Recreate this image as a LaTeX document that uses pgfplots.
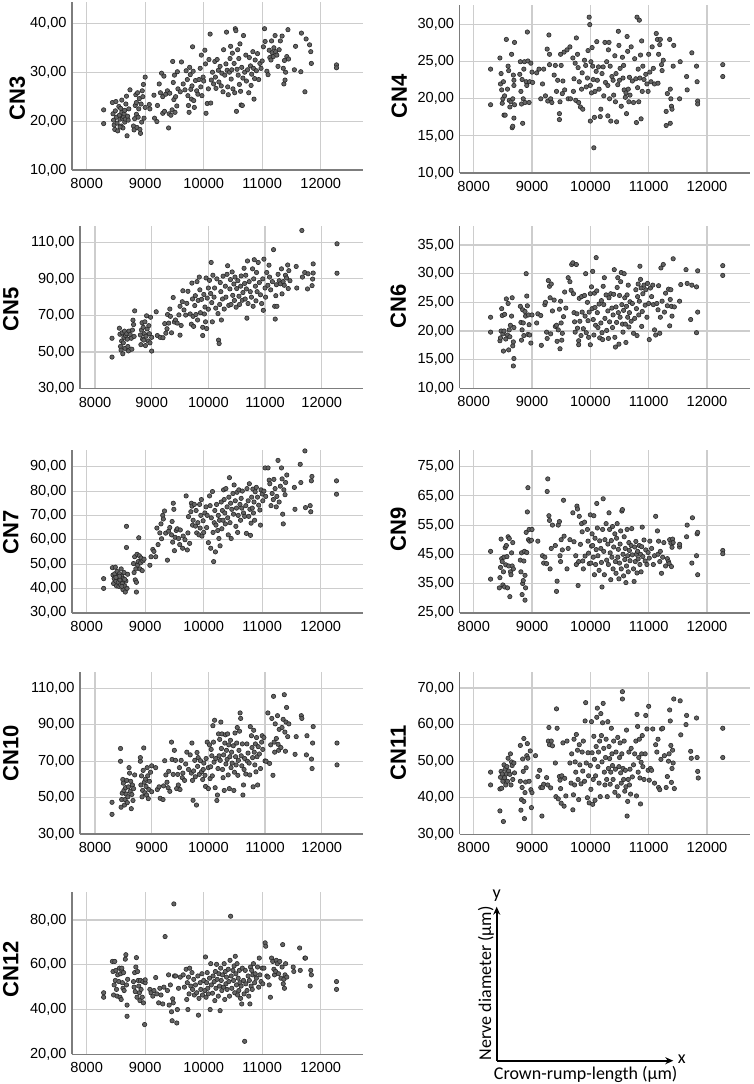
\documentclass[border=0pt]{standalone}
\usepackage{pgfplots}
\pgfplotsset{compat=1.18}
\usepackage{fontspec}
\setmainfont{Liberation Sans}
\newfontfamily\carlito{Carlito}
\usetikzlibrary{arrows.meta}
\definecolor{gridgray}{RGB}{205,205,205}
\definecolor{axisgray}{RGB}{125,125,125}
\definecolor{markfill}{RGB}{100,100,100}
\definecolor{markedge}{RGB}{40,40,40}
\pgfplotsset{
  panel/.style={
    scale only axis, anchor=south west,
    axis lines=left, axis line style={-, draw=axisgray, line width=0.8pt},
    x axis line style={-}, y axis line style={-},
    grid=major, major grid style={draw=gridgray, line width=0.55pt},
    major tick length=0pt,
    xtick={8000,9000,10000,11000,12000},
    scaled x ticks=false, scaled y ticks=false,
    /pgf/number format/assume math mode=true,
    tick label style={font=\fontsize{7.3}{8}\selectfont},
    yticklabel style={inner sep=0pt, xshift=-2.5pt,
      /pgf/number format/fixed, /pgf/number format/fixed zerofill,
      /pgf/number format/precision=2, /pgf/number format/use comma},
    xticklabel style={inner sep=0pt, yshift=-4pt,
      /pgf/number format/fixed, /pgf/number format/precision=0,
      /pgf/number format/1000 sep={}},
  },
  pts/.style={only marks, mark=*, mark size=1.1pt,
    mark options={fill=markfill, draw=markedge, line width=0.3pt}},
}
\begin{document}
\begin{tikzpicture}
\path[use as bounding box] (0,0) rectangle (377pt,-542pt);

% ---------------- CN3 ----------------
\begin{axis}[panel, at={(36pt,-85pt)}, width=145.65pt, height=84pt,
  xmin=7749, xmax=12728, ymin=10, ymax=44.36, ytick={10,20,30,40}]
\addplot[pts] coordinates {
(8290,22.3)(8290,19.5)(8440,23.8)(8450,21.5)(8460,20.2)(8470,19.2)(8480,18.3)(8490,22.1)(8500,24)(8510,20.8)(8520,19.6)(8530,18)
(8550,23)(8560,21.2)(8570,20.4)(8580,22.6)(8590,19)(8600,21.8)(8610,20.6)(8620,18.6)(8630,20.9)(8640,21.5)(8650,19.8)(8660,20.4)(8670,23.5)(8680,25.1)(8690,17)(8700,21)(8710,20.2)(8720,22.5)(8740,26.4)(8600,24.3)(8650,22.2)(8570,18.8)
(8800,19)(8810,18.2)(8820,20.5)(8830,23.2)(8840,25.4)(8850,21.4)(8860,18.7)(8870,25.8)(8880,20.8)(8890,22.5)(8900,24.6)(8910,18.3)(8920,17.5)(8930,23.5)(8940,19.8)(8950,26.2)(8960,25)(8980,20.6)(9000,22.8)(9000,29)(8970,27.5)(8850,23.8)
(9070,23.4)(9080,22.5)(9150,25.3)(9160,20.6)(9200,19.9)(9210,23.2)(9240,27.6)(9260,25.8)(9280,29.8)(9300,21.6)(9300,25)(9320,29.2)(9330,22)(9350,25.5)(9380,26.2)(9400,18.6)(9410,21.5)(9420,25.7)(9440,21.2)(9460,22.3)(9470,32.2)(9480,27.9)(9490,24.4)(9500,29.4)(9510,21.8)(9520,25)(9540,23.1)(9550,30.1)(9560,26.6)
(9600,26)(9620,32.1)(9650,27.6)(9680,26.4)(9700,30.3)(9720,28.5)(9730,25.2)(9740,23.2)(9750,21.8)(9760,31)(9770,29.5)(9780,26.5)(9790,24.5)(9800,27.2)(9810,35.2)(9820,30.2)(9830,24.2)(9840,22.8)(9860,28.3)(9880,26.2)(9900,25.5)(9920,28.5)(9940,30.8)(9950,27)(9960,33.5)(9970,25.2)(9990,29)(10000,28.2)
(10020,34.5)(10030,31.7)(10040,21.6)(10060,23.6)(10080,26.6)(10090,32.6)(10110,37.8)(10120,23.7)(10130,28.4)(10150,30)(10170,27.6)(10190,32.2)(10200,29)(10210,26.7)(10230,32.6)(10250,30.4)(10260,28)(10280,31.2)(10300,27.2)(10310,29.8)(10330,26)(10340,34.6)(10360,29.4)(10380,31.7)(10390,38.2)(10400,30.4)(10410,27)(10420,25.4)(10440,30)(10450,32.8)(10460,35.3)(10470,28.6)(10480,30.5)(10490,33.9)(10500,26.6)
(10520,31.8)(10530,25.8)(10540,38.9)(10550,38.5)(10560,22)(10570,30.6)(10580,34.6)(10590,29.4)(10600,32.8)(10610,27.5)(10620,35.8)(10630,26.1)(10640,23.3)(10650,31)(10660,23.2)(10670,28.8)(10680,37.5)(10700,30)(10720,33.5)(10730,28.2)(10750,30.5)(10770,25.8)(10780,33)(10800,31.3)(10810,27.3)(10820,29.6)(10840,34.2)(10850,30.8)(10860,24.5)(10870,28.7)(10880,32.5)(10900,30.3)(10920,33.8)(10940,28.5)(10960,31.8)(10980,30.8)(11000,32.3)
(11020,35.2)(11040,38.9)(11050,36.3)(11080,30.2)(11100,29.5)(11120,34.5)(11130,33)(11150,32.5)(11160,36.4)(11170,34)(11190,33.2)(11200,35)(11220,37.5)(11230,34.2)(11250,33.5)(11270,31.2)(11290,34.6)(11310,36.4)(11340,37.4)(11360,30.8)(11370,27.6)(11380,32.4)(11390,28.4)(11400,30)(11420,33.2)(11440,38.7)(11450,32.7)(11550,30.5)(11570,35.3)(11660,30.1)(11670,38)(11730,26)(11750,36.8)(11810,35.6)(11830,34.2)(11840,31.8)(12270,31.5)(12270,30.9)
};
\end{axis}
\node[rotate=90, font=\bfseries\fontsize{11}{13}\selectfont] at (8.65pt,-49pt) {CN3};

% ---------------- CN4 ----------------
\begin{axis}[panel, at={(229.75pt,-86.5pt)}, width=145.4pt, height=84pt,
  xmin=7757, xmax=12742, ymin=10, ymax=32.64, ytick={10,15,20,25,30}]
\addplot[pts] coordinates {
(8290,24)(8290,19.2)
(8450,25.5)(8460,22)(8470,23.4)(8480,21.2)(8490,19.4)(8500,20)(8510,22.3)(8520,17.8)(8530,20.4)(8540,17.8)(8560,28)(8580,21.3)(8590,24.4)(8600,23.8)(8610,19.8)(8620,18.9)(8640,19.6)(8650,26)(8660,16.1)(8670,16.3)(8670,20)(8680,23.2)(8690,22.5)(8700,27.6)(8690,17.4)(8700,19.2)(8690,21.8)
(8790,23.3)(8800,25)(8810,21)(8820,19.3)(8830,22.6)(8840,16.7)(8850,20)(8860,24)(8870,25)(8880,19.5)(8900,22.3)(8910,21.8)(8920,29)(8930,25.1)(8950,19.5)(8960,22.3)(8980,24.8)(9000,23.6)(9010,22.2)
(9080,23.5)(9120,24)(9150,20)(9180,22)(9200,24)(9230,20.4)(9260,26.7)(9270,19.7)(9290,28.6)(9300,26)(9300,24.6)(9320,20)(9340,19.5)(9380,23.2)(9400,24.5)(9420,21)(9440,22.5)(9470,17.2)(9470,18)(9480,19.6)(9490,26)(9500,24.5)(9520,20.7)(9530,22.4)(9550,26.3)(9560,21.2)(9600,26.6)(9620,20)(9650,27)(9660,20)
(9700,25.5)(9710,21)(9720,22.7)(9740,24.8)(9750,19.8)(9760,28.2)(9780,26)(9790,24.2)(9800,19.5)(9810,22.3)(9830,18.9)(9850,21.3)(9860,23.5)(9870,18.6)(9900,25.2)(9920,24.5)(9930,21.6)(9950,22.8)(9960,26.5)(9980,31)(9990,30)(10000,17)(10000,21.8)(10010,25)(10020,20.8)(10030,26.9)(10040,24.4)(10050,22.6)(10060,13.4)(10070,17.5)(10080,21)(10100,23.7)(10110,27.7)(10120,22.5)(10140,24.3)(10150,21.3)(10170,17.6)(10180,18.6)(10200,23.4)(10220,24.3)(10230,20.4)(10250,27.6)(10260,22.2)(10280,25)(10300,17.7)(10300,21.8)(10310,26.6)(10320,27.6)(10330,20)(10340,24.4)(10350,17)(10370,23)(10390,22.5)(10400,20.5)(10420,25.8)(10430,19.6)(10440,23.4)(10450,16.9)(10470,21.9)(10480,29.1)(10490,27.2)(10500,22.5)
(10510,24.1)(10530,19)(10550,25.6)(10560,22.8)(10570,24.5)(10580,21.2)(10600,20.2)(10610,20.8)(10620,18)(10630,28.4)(10640,26.4)(10650,21.3)(10660,19.6)(10670,22.9)(10680,20.5)(10700,27)(10720,22.4)(10740,19.5)(10760,25.4)(10780,22.7)(10790,16.8)(10800,31)(10810,21.5)(10820,24)(10830,19.6)(10840,30.6)(10850,22.8)(10860,25.9)(10870,17.3)(10880,27.8)(10890,21)(10900,24.4)(10920,22.6)(10950,23.3)(10970,22)(10990,21)
(11000,26)(11020,23.6)(11040,22.3)(11060,27)(11080,24.1)(11100,22)(11130,28.8)(11150,28)(11160,22.1)(11170,26)(11190,27.3)(11200,28)(11220,24.6)(11230,23.8)(11250,25.2)(11300,16.4)(11300,18.3)(11320,20.7)(11360,28)(11370,16.7)(11370,21.3)(11380,20)(11390,19)(11400,18.6)(11420,24.4)(11430,27.2)(11530,20)(11540,25)(11650,23)(11660,21.2)(11740,26.2)(11820,24.4)(11830,22.3)(11840,19.7)(11840,19.3)(12270,24.6)(12270,23)
};
\end{axis}
\node[rotate=90, font=\bfseries\fontsize{11}{13}\selectfont] at (199.65pt,-48.35pt) {CN4};

% ---------------- CN5 ----------------
\begin{axis}[panel, at={(40pt,-194.25pt)}, width=141.65pt, height=81.4pt,
  xmin=7735, xmax=12734, ymin=30, ymax=119.1, ytick={30,50,70,90,110}]
\addplot[pts] coordinates {
(8300,57.5)(8300,47.2)
(8430,63)(8440,59.7)(8450,53)(8460,51)(8470,56)(8480,60.5)(8490,49)(8500,55)(8510,58)(8520,61.4)(8530,52)(8540,59)(8560,60)(8570,57)(8580,53)(8590,50.6)(8600,61.4)(8620,59.6)(8640,57.5)(8660,62)(8670,67.4)(8680,65)(8700,72.5)(8690,58.5)(8650,51.5)
(8800,59.3)(8810,54)(8820,62)(8830,66)(8840,57)(8850,63.5)(8860,56.5)(8870,60)(8880,66.5)(8890,53.5)(8900,58.6)(8910,69.8)(8920,62.6)(8940,56)(8950,64.4)(8960,60)(8970,55)(8980,69)(9000,50.5)(9000,58)
(9080,72)(9100,59)(9150,58)(9200,57.8)(9230,65.5)(9250,60.3)(9270,62.7)(9280,70.5)(9300,65.8)(9320,73.5)(9330,69.5)(9350,60.5)(9380,79.8)(9400,66.4)(9420,67.5)(9450,65.8)(9480,70.3)(9500,75)(9500,59.2)(9520,64.5)(9540,77.5)(9550,83.5)(9570,73)(9600,70.2)(9620,76.6)(9640,83.2)
(9680,70.8)(9700,65.2)(9710,87.7)(9720,79)(9730,69.5)(9740,64)(9760,75.4)(9770,80.8)(9780,70.5)(9800,88.5)(9810,67.5)(9820,78.2)(9840,91)(9850,84)(9860,71.5)(9880,78.8)(9900,63.5)(9900,59)(9920,81.5)(9930,70.8)(9940,74.6)(9950,66.5)(9960,90.5)(9970,62.8)(9980,79.5)(10000,85)(10000,73.4)
(10020,89.2)(10040,82)(10050,99)(10060,77)(10070,66.5)(10080,92)(10100,80)(10110,85)(10130,74)(10150,90)(10170,71)(10180,56.5)(10190,54.6)(10200,76)(10210,88)(10220,83)(10230,67.5)(10250,79)(10260,91.5)(10280,73.5)(10300,86)(10310,80)(10330,92.5)(10340,97.2)(10360,75.5)(10380,84.5)(10390,89.6)(10400,76)(10420,93.8)(10430,81)(10450,87.2)(10460,78.2)(10470,91)(10490,74.5)(10500,84.7)
(10520,89)(10540,80.5)(10550,76)(10570,86)(10580,91.6)(10600,78.3)(10610,82.5)(10630,95.8)(10640,87.5)(10650,79)(10660,92)(10670,84.5)(10680,68.5)(10690,99.8)(10700,76.5)(10720,88.5)(10740,83)(10760,80)(10780,95.5)(10790,75)(10800,90)(10810,100.5)(10830,86)(10840,78)(10850,93.5)(10860,83)(10880,99)(10900,88)(10920,81.3)(10940,76.5)(10960,90)(10970,72.8)(10980,100.8)(11000,85)(11010,80)
(11030,93.5)(11050,86.5)(11070,97.5)(11080,91)(11100,84)(11130,88.5)(11150,106)(11170,75)(11180,68)(11190,80.8)(11200,86.8)(11210,75)(11230,92.5)(11250,89)(11270,87.3)(11290,95.5)(11300,81.8)(11320,88.5)(11340,86.5)(11360,92)(11380,90.5)(11400,97.6)(11410,84.7)(11420,94.5)(11440,89)(11550,96.8)(11560,85)(11650,116.5)(11660,91)(11700,93.5)(11750,84.5)(11760,92.8)(11830,86.3)(11840,89.9)(11850,93.2)(11850,98.2)(12270,109.2)(12270,93.1)
};
\end{axis}
\node[rotate=90, font=\bfseries\fontsize{11}{13}\selectfont] at (5.4pt,-154.5pt) {CN5};

% ---------------- CN6 ----------------
\begin{axis}[panel, at={(229.75pt,-194.15pt)}, width=145.4pt, height=81.3pt,
  xmin=7757, xmax=12742, ymin=10, ymax=38.37, ytick={10,15,20,25,30,35}]
\addplot[pts] coordinates {
(8290,22.4)(8290,19.8)
(8450,18.3)(8460,18.8)(8470,20)(8480,23.9)(8490,22.7)(8500,19.5)(8510,16.5)(8520,20)(8530,22.9)(8550,18.6)(8560,25.6)(8580,19.3)(8590,24.8)(8600,16.7)(8610,20.2)(8620,19)(8630,21)(8650,22.6)(8660,25.8)(8670,17.4)(8680,18.1)(8690,15.2)(8680,13.9)(8690,20.6)
(8800,24.3)(8810,21.5)(8820,18.4)(8830,20.2)(8840,23.7)(8850,21.4)(8860,19.2)(8880,23.4)(8890,22.6)(8900,30)(8910,26.1)(8920,24.4)(8930,19.4)(8940,22.8)(8950,21.1)(8960,19.3)(8980,17.9)(9000,22.8)
(9080,21.4)(9100,23)(9150,22.7)(9160,17.5)(9220,24.6)(9230,25)(9250,19.8)(9260,18.7)(9280,28.8)(9300,27.8)(9310,25.8)(9320,19.5)(9330,28.2)(9350,23.5)(9380,25.4)(9400,20.8)(9420,21)(9430,18.2)(9450,20.2)(9470,23.8)(9480,16.9)(9490,25.2)(9500,21.4)(9510,18.4)(9520,19.6)(9540,22.5)(9560,26.8)(9580,24)
(9620,29.3)(9650,28.6)(9670,27.1)(9680,31.6)(9700,31.9)(9710,26.5)(9720,23.2)(9730,21.6)(9740,19.8)(9760,31.6)(9770,23)(9780,20.5)(9800,18.3)(9800,17.6)(9810,25.7)(9820,21.7)(9840,19.2)(9850,26)(9860,23.3)(9880,20.4)(9900,26.2)(9910,22.6)(9920,30)(9930,19.7)(9950,25)(9960,21.8)(9970,18.9)(9980,23.3)(10000,17.6)(10000,26.5)
(10020,27.7)(10030,23.9)(10040,30.4)(10050,22)(10060,19.3)(10070,26.6)(10080,24.1)(10090,21)(10100,32.8)(10110,27)(10120,23.2)(10130,20.6)(10150,24.7)(10160,18.8)(10180,21.4)(10190,25.3)(10200,19.7)(10210,18.5)(10220,27.8)(10230,24.6)(10240,29.3)(10250,22.2)(10270,26.3)(10280,20.1)(10300,23.5)(10310,18.7)(10320,25.8)(10330,21.6)(10350,26.5)(10370,24)(10380,20.6)(10390,22.8)(10400,26.4)(10410,30.7)(10420,18.9)(10430,17.2)(10440,24.2)(10450,21.5)(10460,27.6)(10470,29.3)(10480,23.2)(10490,17.7)(10500,26.2)
(10510,22.4)(10520,28.6)(10530,30.2)(10540,24.6)(10550,21.2)(10560,19.8)(10570,23.6)(10580,30)(10590,25.8)(10600,21.2)(10610,18)(10620,24.3)(10630,26.3)(10640,22.4)(10650,28)(10660,20.7)(10670,23.2)(10680,25.1)(10700,21.7)(10720,24.8)(10740,19.6)(10760,22.2)(10780,27.2)(10790,23.9)(10800,19.2)(10810,26)(10820,28.2)(10830,22.8)(10840,25.2)(10850,31.3)(10860,29)(10870,27.5)(10880,20.8)(10890,23.4)(10900,26.5)(10920,28)(10940,24.5)(10950,27.2)(10970,22.4)(10980,28.3)(11000,24.8)(11010,18.5)
(11030,27.5)(11050,26)(11070,28)(11080,24.6)(11100,20.2)(11120,19.3)(11140,24.8)(11160,23.7)(11170,27.9)(11190,19.6)(11200,22.4)(11210,31)(11230,25.2)(11250,31.6)(11270,23.3)(11290,26.6)(11320,24.4)(11340,27.3)(11360,20.9)(11370,25.5)(11380,27.2)(11390,24.3)(11400,22.6)(11420,32.6)(11440,24.2)(11530,25.2)(11550,28.1)(11640,30.7)(11660,28.3)(11720,22)(11740,28)(11820,19.7)(11820,27.7)(11840,23.3)(11840,30.5)(12270,31.4)(12270,29.7)
};
\end{axis}
\node[rotate=90, font=\bfseries\fontsize{11}{13}\selectfont] at (199.15pt,-153.35pt) {CN6};

% ---------------- CN7 ----------------
\begin{axis}[panel, at={(36pt,-306.35pt)}, width=145.65pt, height=81.35pt,
  xmin=7749, xmax=12728, ymin=30, ymax=96.87, ytick={30,40,50,60,70,80,90}]
\addplot[pts] coordinates {
(8290,44)(8290,40)
(8440,48.5)(8450,45.5)(8460,42)(8470,44)(8480,46)(8490,48.7)(8500,43)(8510,41)(8520,47)(8530,44.5)(8540,42.5)(8550,40.8)(8560,46)(8570,43.5)(8580,41.5)(8590,48)(8600,45)(8610,42)(8620,39.5)(8630,44)(8640,46.5)(8650,41)(8660,38.5)(8670,43)(8680,65.5)(8680,56.8)(8690,40)(8700,45.8)(8650,43.7)(8600,40.8)(8560,45)(8500,44.5)
(8800,50.2)(8810,46.5)(8820,53)(8830,43.5)(8840,48)(8850,38.5)(8850,42.5)(8860,54)(8870,49.6)(8880,51)(8890,60.8)(8900,53.4)(8910,48)(8920,50.5)(8930,52.5)(8950,47.3)(8960,51.3)(8980,52)
(9080,49.5)(9100,53)(9130,56)(9150,55.2)(9180,53)(9200,64.8)(9220,58)(9250,62.8)(9270,66.5)(9280,60.4)(9300,70)(9310,68.5)(9330,71.8)(9350,62.7)(9380,51.6)(9400,63.5)(9420,65)(9450,62)(9460,67.5)(9470,59)(9480,75)(9490,72.5)(9500,55.5)(9510,61)(9530,63.8)(9550,64.5)(9570,60.5)(9590,58)(9600,64)
(9640,56.5)(9650,61.5)(9680,60)(9700,78)(9720,55.8)(9730,62.8)(9740,69.5)(9760,58.5)(9780,71.5)(9790,75)(9800,73.8)(9810,66)(9820,68)(9840,74.5)(9860,65.6)(9870,72)(9880,62.8)(9900,67)(9920,62)(9930,74.5)(9940,64.8)(9950,70)(9960,76.5)(9970,61.5)(9990,67.8)(10000,63)
(10020,71)(10040,73.5)(10050,65)(10060,70)(10080,58.8)(10100,78)(10110,74)(10120,56.5)(10130,69)(10150,79.8)(10160,63)(10170,51)(10180,67)(10190,72)(10200,55)(10210,66)(10220,74.5)(10240,63.8)(10250,70)(10260,60.5)(10270,68)(10280,57.5)(10300,75.5)(10310,64.5)(10320,72)(10330,68)(10340,80.5)(10350,76.5)(10360,71)(10370,66.5)(10380,81)(10400,73.5)(10410,69)(10420,62)(10430,77.5)(10440,85.5)(10450,67)(10460,75)(10470,60.5)(10480,72.5)(10500,79)
(10510,70.5)(10520,82.5)(10540,76)(10550,65.5)(10560,73)(10570,79.5)(10580,63)(10590,70)(10600,80.5)(10620,74.5)(10630,68)(10640,77)(10650,73)(10660,80)(10680,71)(10700,69.6)(10720,74)(10730,62.6)(10740,81)(10760,76)(10770,69.6)(10780,83)(10790,72.5)(10800,61.8)(10810,66.8)(10820,77.5)(10830,73)(10840,80.8)(10850,71)(10860,75.5)(10870,68)(10880,79.7)(10900,81.5)(10920,77.5)(10940,74.2)(10960,72.2)(10970,66)(10980,80.5)(11000,78.8)(11010,76)
(11030,80)(11050,89.5)(11060,77.8)(11100,89.5)(11120,84.5)(11130,83)(11150,74)(11170,79)(11190,76.5)(11200,84.8)(11220,81)(11240,73.5)(11250,77.8)(11270,92.6)(11290,75.5)(11310,82)(11330,89.5)(11340,85)(11350,70.5)(11360,66.5)(11370,80.5)(11390,78.5)(11400,83.5)(11420,86.6)(11550,81.5)(11560,72.5)(11650,91)(11660,83.5)(11730,96.5)(11740,73.2)(11820,74)(11830,71.5)(11840,84.2)(11850,86)(12270,84.2)(12270,78.7)
};
\end{axis}
\node[rotate=90, font=\bfseries\fontsize{11}{13}\selectfont] at (5.4pt,-266.25pt) {CN7};

% ---------------- CN9 ----------------
\begin{axis}[panel, at={(229.75pt,-306.35pt)}, width=145.4pt, height=81.35pt,
  xmin=7757, xmax=12742, ymin=25, ymax=80.7, ytick={25,35,45,55,65,75}]
\addplot[pts] coordinates {
(8290,46)(8290,36.5)
(8440,33.5)(8450,37)(8460,40.5)(8470,50.2)(8480,43.5)(8490,42.5)(8500,34.5)(8510,39)(8520,44)(8530,33.8)(8540,47.3)(8550,41.4)(8560,48)(8570,44.2)(8580,33.5)(8590,51)(8600,41)(8610,50.4)(8620,30.5)(8630,39)(8640,38)(8650,45.5)(8660,41)(8670,49)(8680,40)
(8800,43)(8810,39)(8820,45.5)(8830,31.2)(8840,35)(8850,36)(8860,42.7)(8870,46)(8880,29.3)(8880,37.8)(8890,33.5)(8900,52.5)(8910,45.6)(8920,59.5)(8930,67.8)(8940,50)(8950,53.5)(8960,49.5)(9000,53.5)(8990,49.8)
(9100,49.5)(9180,44.5)(9200,42)(9220,44)(9250,41.8)(9260,66.5)(9270,70.8)(9290,58.2)(9300,56.6)(9310,40)(9330,47)(9350,55)(9400,48)(9420,32.3)(9430,35.8)(9450,55)(9470,56.2)(9480,44.5)(9490,42.5)(9500,50)(9520,46.5)(9540,63.5)(9550,51.2)(9600,40)(9620,47)(9650,50)
(9700,59.2)(9720,49.3)(9750,44.5)(9760,41.5)(9770,61.5)(9780,60.5)(9790,34.3)(9800,42.5)(9810,58)(9830,48.4)(9850,55.5)(9860,52.7)(9870,42.7)(9880,40)(9900,56)(9910,44.4)(9950,53.5)(9960,49.5)(9970,45.4)(9980,41.8)(10000,58.5)(10010,42)(10020,47.8)
(10030,52)(10040,48)(10050,44)(10060,58.2)(10070,38)(10080,50.5)(10090,41.5)(10100,46.6)(10110,62.4)(10120,54)(10130,44.5)(10150,39.5)(10160,49.6)(10180,47)(10190,42.2)(10200,33.8)(10210,53.5)(10220,64)(10230,46)(10240,38)(10250,50)(10270,55.5)(10280,43)(10300,48.5)(10310,41.5)(10320,59.2)(10330,53.5)(10340,45.5)(10350,36.3)(10360,49.7)(10370,44)(10380,54.5)(10390,40)(10400,47.5)(10420,52)(10430,42.5)(10440,38.5)(10450,50.5)(10460,55.5)(10470,44)(10480,46.7)(10490,36.6)(10500,42)
(10510,48.5)(10520,53)(10530,40)(10540,59.8)(10550,60.3)(10560,45)(10570,37.6)(10580,51)(10590,43.2)(10600,47)(10610,35.3)(10620,41)(10630,53.5)(10640,44.5)(10650,39)(10660,49)(10670,46.3)(10680,42.8)(10700,48)(10710,53.8)(10720,44.8)(10740,40)(10750,35.7)(10760,47.5)(10770,42.5)(10780,49.4)(10790,45)(10800,38.6)(10810,46)(10820,43.4)(10840,48)(10850,41.5)(10860,45)(10870,39)(10880,47.6)(10890,54.3)(10900,44.2)(10920,49.9)(10940,42.7)(10950,46.5)(10970,41.5)(10990,45.6)(11010,43.7)
(11020,49.5)(11050,47)(11080,41.5)(11100,44.5)(11120,58)(11150,53)(11160,45)(11170,49.5)(11190,42.5)(11200,46)(11220,38.5)(11240,44)(11260,49)(11290,41)(11320,43.5)(11340,42.5)(11350,41.8)(11360,50)(11380,48.8)(11390,40.8)(11400,47.4)(11410,50.2)(11420,49)(11530,47.5)(11530,48.4)(11650,51)(11660,55)(11740,42)(11750,57.5)(11820,44.5)(11830,52)(11840,52.5)(11840,38)(12270,46.3)(12270,45.2)
};
\end{axis}
\node[rotate=90, font=\bfseries\fontsize{11}{13}\selectfont] at (199.15pt,-264.5pt) {CN9};

% ---------------- CN10 ----------------
\begin{axis}[panel, at={(40pt,-417.1pt)}, width=141.65pt, height=81.25pt,
  xmin=7735, xmax=12734, ymin=30, ymax=119.1, ytick={30,50,70,90,110}]
\addplot[pts] coordinates {
(8300,47.5)(8300,40.9)
(8450,77)(8450,70)(8460,44.8)(8470,49)(8480,52.5)(8490,60)(8500,58)(8510,54)(8520,46)(8530,49)(8540,55.5)(8550,52)(8560,59.5)(8570,47.3)(8580,50.5)(8590,56)(8600,66.5)(8610,63.5)(8620,53.5)(8630,59)(8640,44)(8650,51.8)(8660,57)(8670,48.5)(8680,55)(8700,62.5)
(8800,70)(8800,72)(8810,57)(8820,62)(8830,50.5)(8840,54)(8850,65)(8860,77.3)(8870,58.5)(8880,52.7)(8890,60.2)(8900,56.2)(8910,51.5)(8920,66.5)(8930,62)(8940,49.5)(8950,54.5)(8960,59)(8980,64)(9000,67.5)(9000,53.3)
(9070,66.5)(9100,54.5)(9130,56)(9150,49.7)(9200,49)(9210,56.5)(9230,70.3)(9250,62.5)(9270,58.5)(9290,55.5)(9300,64.5)(9320,53.5)(9350,80.5)(9360,71)(9380,62.8)(9400,76)(9420,70.5)(9440,55)(9460,62.8)(9470,57)(9490,66.5)(9500,54.5)(9520,70.5)(9540,61)(9550,63.5)(9580,59.5)(9600,68.5)
(9620,75)(9650,65.5)(9680,73.5)(9700,63.5)(9710,80)(9720,59.5)(9730,48.6)(9740,64.7)(9760,70.5)(9770,61.5)(9790,46)(9800,74.8)(9810,67.2)(9820,72)(9840,62.8)(9860,70.3)(9880,64.3)(9900,60)(9910,65.5)(9920,69)(9940,62.3)(9950,56.2)(9960,71.5)(9980,80.5)(10000,55)(10000,66.5)
(10020,79)(10030,60.5)(10040,67)(10050,76.5)(10060,73)(10070,62)(10080,89.5)(10090,80.5)(10100,69.5)(10110,92.5)(10120,55.5)(10130,71.5)(10150,48.5)(10160,51.5)(10170,66)(10180,85)(10190,73)(10200,82)(10210,70.5)(10220,91.5)(10230,77)(10240,85)(10250,65.5)(10260,61)(10270,73.5)(10280,54)(10290,80)(10300,84.5)(10310,68.5)(10320,76)(10330,71)(10340,85)(10350,62.5)(10360,79)(10370,55)(10380,72.5)(10390,81.5)(10400,66.5)(10410,75)(10420,69)(10440,78.5)(10450,54)(10460,64)(10470,85.5)(10480,72.5)(10490,68)(10500,80)
(10510,88.5)(10520,62.3)(10530,70.5)(10540,76)(10550,86.5)(10560,96.5)(10570,93.5)(10580,73)(10590,67.5)(10600,79.5)(10610,51.5)(10620,57)(10630,65.5)(10640,71.5)(10660,63)(10680,79.5)(10690,70)(10700,74.5)(10720,69)(10730,62.5)(10740,89)(10760,84)(10770,77.5)(10780,72)(10790,56)(10800,87)(10810,75)(10820,68)(10830,79.5)(10840,64.2)(10850,83)(10860,72.5)(10870,57)(10880,78)(10900,74)(10920,66)(10940,80.5)(10950,84)(10960,76.5)(10980,83)(11000,70.2)
(11020,70)(11050,96.5)(11080,68.8)(11100,79)(11120,93.5)(11140,62.3)(11150,105.6)(11160,80.5)(11170,75)(11180,90.5)(11200,82.5)(11220,95)(11230,79.3)(11240,76)(11250,87.5)(11280,77.5)(11300,88.5)(11320,93)(11340,106.5)(11350,86)(11360,75.5)(11370,91.5)(11380,99.5)(11400,83.5)(11420,90.5)(11530,73.8)(11550,83.5)(11640,95)(11650,93.5)(11730,73.5)(11740,84)(11820,71.2)(11830,66)(11840,80)(11850,89)(12270,80)(12270,68)
};
\end{axis}
\node[rotate=90, font=\bfseries\fontsize{11}{13}\selectfont] at (5.4pt,-376.5pt) {CN10};

% ---------------- CN11 ----------------
\begin{axis}[panel, at={(229.75pt,-417.15pt)}, width=145.4pt, height=81.3pt,
  xmin=7757, xmax=12742, ymin=30, ymax=74.46, ytick={30,40,50,60,70}]
\addplot[pts] coordinates {
(8290,47)(8290,43.5)
(8450,36.4)(8450,42.4)(8460,45.6)(8470,47.2)(8480,42.6)(8490,46.5)(8500,44.5)(8510,33.5)(8520,49)(8530,45.5)(8540,47.8)(8550,43.5)(8560,46.5)(8570,48.5)(8580,44.5)(8590,50.8)(8600,47.3)(8620,46.4)(8630,52)(8640,43.5)(8650,49.8)(8660,48.8)(8670,45)(8690,49.5)(8700,46.8)
(8800,54.3)(8800,44.5)(8810,36.6)(8820,39.5)(8830,42.8)(8840,50.6)(8850,47.2)(8860,56.2)(8860,39)(8870,34.3)(8880,41.4)(8890,44.3)(8900,48.2)(8910,51.5)(8920,54.8)(8930,50.8)(8950,44.5)(8970,52.8)(8980,42.2)(8990,37.3)(9000,41.4)
(9060,51.5)(9100,45.8)(9130,47.5)(9150,42.8)(9170,35)(9180,42.8)(9200,43.7)(9250,45.5)(9270,43.5)(9280,55.5)(9290,59.2)(9300,54.5)(9320,42.7)(9330,55.5)(9350,54.2)(9400,49.5)(9410,40.3)(9420,64.3)(9430,59)(9450,39.7)(9470,45.8)(9480,44.8)(9490,42.5)(9500,38.5)(9510,46)(9530,55)(9550,37.7)(9560,45.3)(9580,40.5)(9600,55.5)
(9650,49.5)(9670,44)(9680,52)(9700,36.7)(9710,40.8)(9720,56)(9730,43.5)(9740,49.8)(9750,47)(9760,57.3)(9780,53)(9790,45)(9800,39.5)(9810,54.5)(9820,49)(9840,43.8)(9860,52.5)(9870,47.3)(9880,55.5)(9900,44.5)(9910,61)(9920,66)(9930,49.5)(9950,40)(9960,52.3)(9970,46)(9980,38.6)(10000,48.8)
(10010,42.3)(10020,60.8)(10030,52.3)(10040,38.2)(10050,45)(10060,56.8)(10070,50.5)(10080,39.3)(10090,46)(10100,54)(10110,62)(10120,64.5)(10130,48.5)(10140,52.5)(10150,44)(10160,55.5)(10170,40.3)(10180,63)(10190,57)(10200,49.8)(10210,60.5)(10220,65.8)(10230,53.5)(10240,47)(10250,43.5)(10260,51)(10270,56)(10280,45)(10290,40.3)(10300,60.8)(10310,48)(10320,54)(10330,50.7)(10340,43.7)(10350,47)(10360,59)(10370,52)(10380,48.8)(10390,45)(10400,55.5)(10420,41.5)(10430,47.8)(10440,52.5)(10460,43)(10470,56.5)(10480,40.5)(10490,48.5)(10500,51)
(10510,55)(10520,46.8)(10530,44)(10540,52)(10550,69)(10550,67)(10560,48)(10570,45)(10580,55.5)(10590,41.8)(10600,47.5)(10610,43)(10620,58.5)(10630,35)(10640,39)(10650,45)(10660,52.5)(10670,43.5)(10680,47.8)(10690,41)(10700,53.5)(10720,45.7)(10740,49)(10760,52)(10780,55.5)(10790,40.5)(10800,62.8)(10810,59.5)(10820,47)(10830,51)(10840,56)(10850,45.4)(10860,38.3)(10870,49.7)(10880,52)(10890,57)(10900,48.5)(10920,45)(10940,52)(10950,62.5)(10970,58.8)(10990,47.5)(11000,65)(11010,44.8)
(11030,48)(11050,47.5)(11070,58.8)(11100,44)(11120,54.5)(11140,52.5)(11160,56)(11170,42.8)(11190,42.2)(11210,50.5)(11220,58.8)(11240,59)(11270,51.5)(11300,42.8)(11320,45.8)(11340,50)(11350,52)(11360,64)(11370,61)(11380,54.3)(11390,44.2)(11400,48)(11410,53)(11420,49.5)(11430,67)(11440,42.5)(11540,66.5)(11550,57.2)(11640,60)(11650,62.5)(11720,52.7)(11730,50.8)(11820,61.8)(11830,51)(11840,47.2)(11850,45.4)(12270,59)(12270,51)
};
\end{axis}
\node[rotate=90, font=\bfseries\fontsize{11}{13}\selectfont] at (199.15pt,-376.5pt) {CN11};

% ---------------- CN12 ----------------
\begin{axis}[panel, at={(36pt,-527.15pt)}, width=145.65pt, height=81.3pt,
  xmin=7749, xmax=12728, ymin=20, ymax=92.65, ytick={20,40,60,80}]
\addplot[pts] coordinates {
(8290,47.5)(8290,45.5)
(8440,61.5)(8450,57)(8460,46.5)(8470,51)(8480,61.5)(8490,53)(8500,57.5)(8510,49)(8520,46)(8530,55.5)(8550,52.5)(8560,58.5)(8570,45.5)(8580,56)(8590,44.5)(8600,57.5)(8610,52)(8620,49.5)(8630,56.5)(8640,48.5)(8660,62.5)(8670,64.5)(8680,51)(8690,42)(8690,37)(8700,53.5)(8600,58.5)
(8800,52.5)(8810,50)(8820,56.5)(8830,48)(8840,59)(8850,63.2)(8860,45.5)(8870,57)(8880,53)(8890,50.5)(8900,47.5)(8910,44)(8920,53)(8930,49)(8950,45.5)(8960,52.5)(8970,43)(8990,33.3)(9000,52)(9000,53.3)
(9080,49)(9100,47.5)(9130,46)(9150,48.5)(9180,54.3)(9200,47)(9230,43)(9250,49.5)(9270,46.5)(9300,42.5)(9320,50)(9340,72.6)(9380,48.5)(9400,55.5)(9410,42)(9430,51)(9450,39)(9460,35)(9470,44.8)(9480,43)(9490,87.2)(9500,55)(9520,55)(9540,34)(9550,40)(9570,49.5)(9600,54.5)
(9650,55.5)(9670,50)(9700,58)(9710,44.5)(9720,52)(9730,40)(9740,54.5)(9750,47)(9760,58.5)(9780,50.5)(9800,56.5)(9810,49)(9830,53.5)(9840,46.5)(9860,51)(9880,47.5)(9900,55)(9910,37.5)(9920,45)(9940,52)(9950,49)(9970,56)(9980,46.5)(10000,53)
(10020,48.5)(10030,63.5)(10040,45.5)(10050,52)(10060,56.5)(10070,49.5)(10080,47)(10100,54)(10110,40)(10120,60.5)(10130,51)(10150,47.3)(10160,55)(10180,52.5)(10190,44)(10200,57)(10210,49.5)(10220,60.2)(10230,53.5)(10250,46)(10260,56)(10270,50.5)(10280,39.5)(10290,58.5)(10300,53)(10310,48.5)(10320,55.5)(10340,50)(10350,60.5)(10360,44.5)(10370,57)(10380,51.5)(10390,54.5)(10400,49)(10420,58)(10430,52.5)(10440,46)(10450,62)(10460,81.7)(10470,55)(10480,49.5)(10500,57.5)
(10510,53)(10520,59.5)(10530,47.5)(10540,63.8)(10550,56)(10560,51)(10570,60.5)(10580,46.5)(10590,54)(10600,48.5)(10610,57.5)(10620,52)(10630,45)(10640,50.5)(10650,42.5)(10660,58.5)(10680,53)(10690,47)(10700,25.8)(10710,57.5)(10720,51.5)(10740,48.5)(10760,55)(10770,46)(10780,53)(10790,42.5)(10800,59)(10810,50.5)(10820,57.5)(10830,49)(10840,55.5)(10850,60.5)(10870,52)(10880,56)(10900,54)(10920,59)(10940,50)(10950,63)(10960,55.5)(10980,52.5)(11000,58.5)(11010,51.5)
(11030,58.5)(11050,69.8)(11060,68.3)(11080,55)(11100,54.5)(11120,51)(11140,45.5)(11160,63)(11180,61.5)(11200,58)(11210,55.5)(11230,57)(11240,62)(11260,60.5)(11280,56)(11300,61.5)(11320,54)(11340,59)(11350,69)(11360,51.5)(11370,53.5)(11380,49.5)(11390,55.5)(11400,60.5)(11420,54.5)(11530,59)(11540,57)(11640,67.5)(11650,57.5)(11730,63)(11740,63)(11820,50.5)(11830,57.5)(11840,55.5)(12270,52.5)(12270,49)
};
\end{axis}
\node[rotate=90, font=\bfseries\fontsize{11}{13}\selectfont] at (5.4pt,-484.5pt) {CN12};

% ---------------- schematic key ----------------
\draw[line width=1pt, -{Stealth[length=4pt,width=3.5pt]}] (248.35pt,-530.35pt) -- (248.35pt,-453.35pt);
\draw[line width=1pt, -{Stealth[length=4pt,width=3.5pt]}] (248.35pt,-530.35pt) -- (336.65pt,-530.35pt);
\node[font=\carlito\fontsize{9}{10}\selectfont, inner sep=0pt] at (248.35pt,-447.8pt) {y};
\node[font=\carlito\fontsize{9}{10}\selectfont, inner sep=0pt] at (340.85pt,-529.6pt) {x};
\node[rotate=90, font=\carlito\fontsize{9}{10}\selectfont, inner sep=0pt] at (243pt,-491.65pt) {Nerve diameter (µm)};
\node[font=\carlito\fontsize{9}{10}\selectfont, inner sep=0pt] at (292.85pt,-537pt) {Crown-rump-length (µm)};
\end{tikzpicture}
\end{document}
